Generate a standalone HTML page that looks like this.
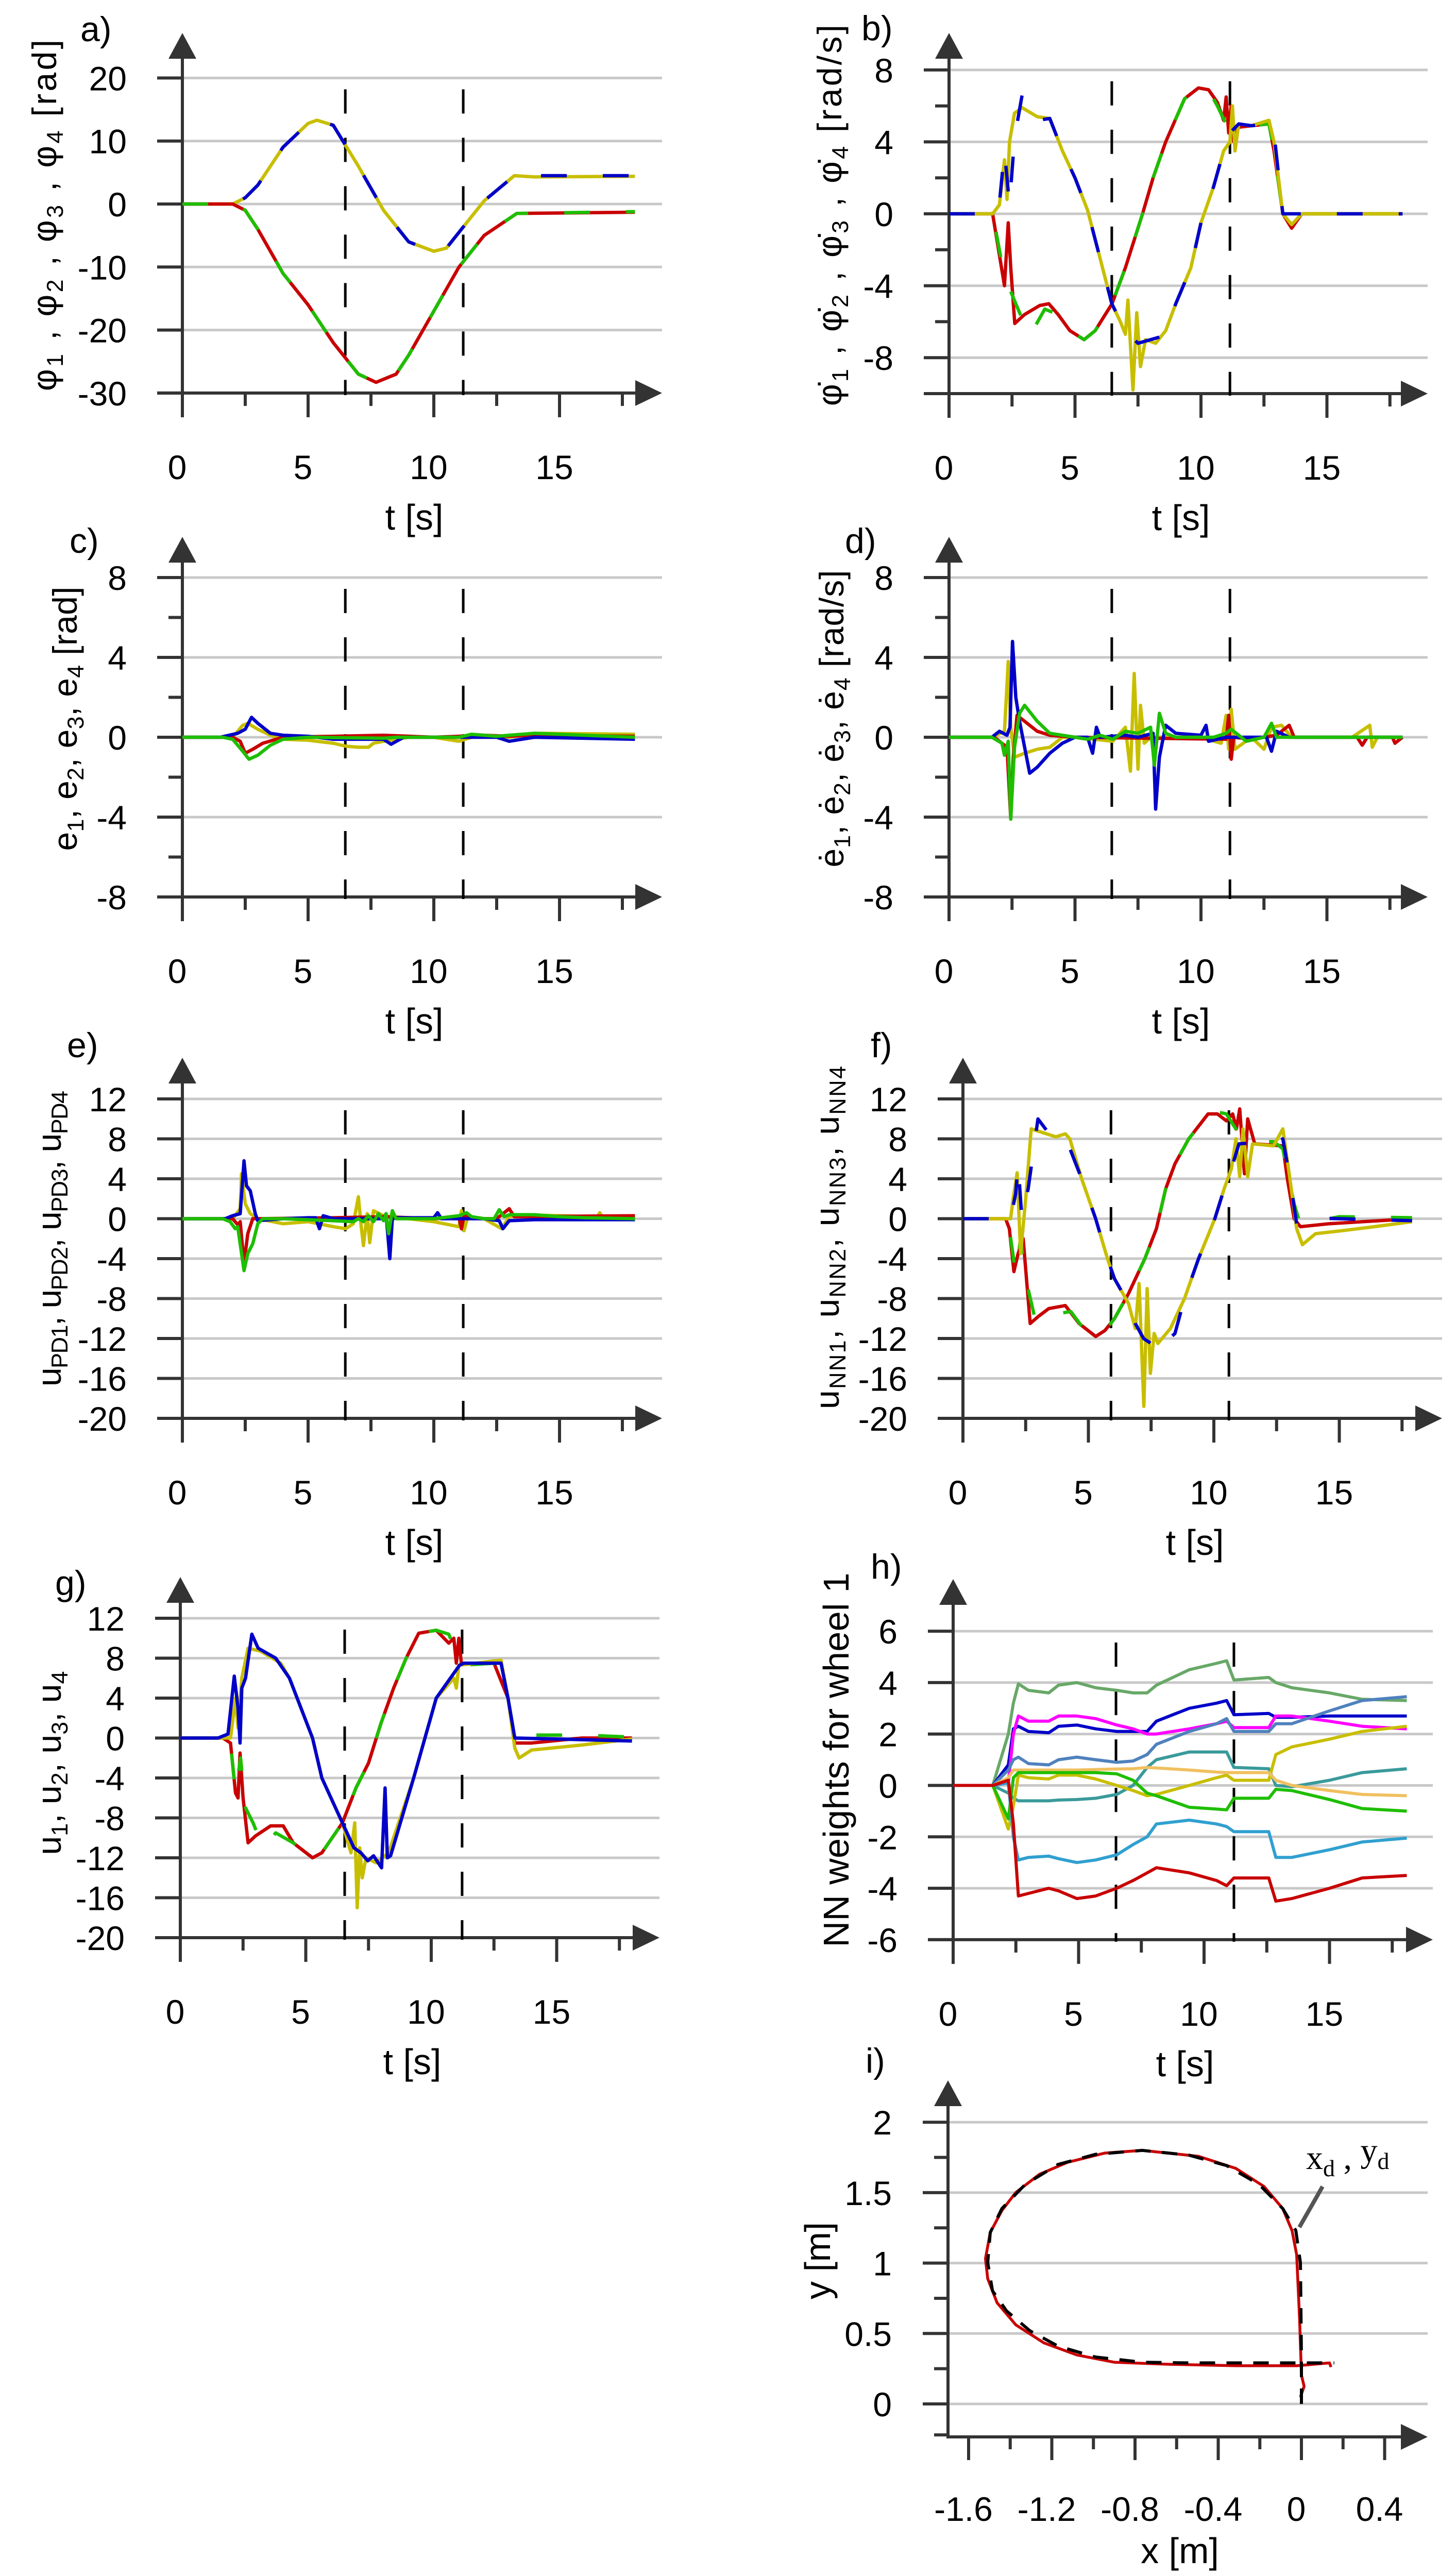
<!DOCTYPE html>
<html><head><meta charset="utf-8"><title>Wheel controller results</title>
<style>
html,body{margin:0;padding:0;background:#fff;width:2826px;height:5021px;overflow:hidden;}
svg{display:block;}
text{font-family:"Liberation Sans Narrow","Liberation Sans",sans-serif;fill:#000;}
.ttl{font-family:"Liberation Sans","DejaVu Sans",sans-serif;}
</style></head>
<body>
<svg id="fig" xmlns="http://www.w3.org/2000/svg" width="2826" height="5021" viewBox="0 0 2826 5021"></svg>
<script>
// ---------------- DATA ----------------
const a_yel_t=[0,2,2.5,3,4,5,5.35,6,7,8,9,10,10.5,11,12,13.2,14,18];
const a_yel_v=[0,0,1,3,9,12.8,13.3,12.5,6,-1,-6,-7.5,-7,-4.5,0.5,4.5,4.3,4.4];
const a_blu_t=[0,2,2.5,3,4,5,5.35,6,7,8,9,10,10.5,11,12,13.2,14,18];
const a_blu_v=[0,0,1,3,9,12.8,13.3,12.5,6,-1,-6,-7.6,-7,-4.5,0.5,4.5,4.5,4.5];
const a_red_t=[0,2,2.5,3,4,5,6,7,7.7,8.5,9,10,11,12,13.3,18];
const a_red_v=[0,0,-1,-4,-11,-16,-22,-27,-28.3,-27,-24,-17,-10,-5,-1.5,-1.3];
const a_grn_t=[0,2,2.5,3,4,5,6,7,7.7,8.5,9,10,11,12,13.3,18];
const a_grn_v=[0,0,-1,-4,-11,-16,-22,-27,-28.3,-27,-24,-17,-10,-5,-1.5,-1.2];
const b_red_t=[0,1.73,2.2,2.35,2.45,2.61,3.0,3.6,3.96,4.33,4.8,5.36,5.8,6.47,7.0,7.68,8.1,8.6,9.35,9.9,10.3,10.65,10.9,11.0,11.1,11.2,11.3,11.4,12.0,12.7,12.9,13.25,13.6,14,18];
const b_red_v=[0,0,-4,-0.5,-3,-6.1,-5.6,-5.1,-5.0,-5.6,-6.5,-7.0,-6.5,-5.0,-3,0,2,4,6.4,7.0,6.9,6.2,5.2,6.5,4.5,6.0,4,4.8,4.9,5.0,3.5,0,-0.8,0,0];
const b_grn_t=[0,1.73,2.2,2.5,2.8,3.2,3.8,4.33,4.8,5.36,5.8,6.47,7.0,7.68,8.1,8.6,9.35,9.9,10.3,10.65,11.0,11.4,12.0,12.7,12.9,13.25,14,18];
const b_grn_v=[0,0,-3.5,-4.5,-5.5,-6.8,-5.3,-5.6,-6.5,-7.0,-6.5,-5.0,-3,0,2,4,6.4,7.0,6.9,6.0,5.0,4.8,4.9,5.0,3.5,0,0,0];
const b_yel_t=[0,1.73,2.0,2.2,2.3,2.4,2.6,2.9,3.5,4.0,4.5,5.0,5.5,6.0,6.46,6.8,7.0,7.1,7.3,7.45,7.6,7.8,8.2,8.6,9.0,9.6,10.0,10.5,10.9,11.15,11.25,11.35,11.5,12,12.7,12.9,13.25,13.6,14,18];
const b_yel_v=[0,0,0.5,3,0.8,4,5.6,5.9,5.4,5.3,3.5,2,0.2,-2.5,-5.0,-6.0,-6.7,-4.8,-9.8,-5.5,-8.5,-7,-7.2,-6.5,-5,-3,-0.5,1.5,3.5,4,6,3.5,5,4.9,5.2,4,0,-0.6,0,0];
const b_blu_t=[0,1.73,2.0,2.2,2.4,2.6,2.9,3.2,3.5,4.0,4.5,5.0,5.5,6.0,6.46,7.0,7.5,8.0,8.5,9.0,9.6,10.0,10.5,10.9,11.15,11.5,12,12.7,12.9,13.25,14,18];
const b_blu_v=[0,0,0.6,3.5,0.5,4.2,6.6,5.6,5.2,5.3,3.5,2,0.2,-2.5,-5.0,-6.5,-7.2,-7.0,-6.8,-5,-3,-0.5,1.5,3.5,4.5,5,4.9,5.0,4.5,0,0,0];
const c_blu_t=[0,1.5,2.2,2.5,2.75,3,3.5,4,5,6,8,8.3,8.8,11,12.5,13,14,18];
const c_blu_v=[0,0,0.2,0.4,1.0,0.7,0.2,0.1,0.05,-0.1,-0.1,-0.35,0,0,0,-0.2,0,-0.1];
const c_yel_t=[0,2.0,2.4,2.6,3,3.5,4,5,6,6.5,7,7.4,7.6,8,9,10,11,11.5,12,13,13.5,14,18];
const c_yel_v=[0,0,0.6,0.7,0.4,0.1,-0.1,-0.15,-0.3,-0.45,-0.5,-0.5,-0.3,-0.2,0,0,-0.2,0,0.1,0,0.1,0.2,0.15];
const c_red_t=[0,2.0,2.3,2.5,2.8,3.2,4,6,8,10,12,13,14,18];
const c_red_v=[0,0,-0.2,-0.8,-0.6,-0.3,0,0.05,0.1,0,0.1,0.05,0.1,0.05];
const c_grn_t=[0,1.6,2.0,2.4,2.65,3,3.5,4,5,8,8.5,11,11.5,12,12.5,13,14,18];
const c_grn_v=[0,0,-0.1,-0.7,-1.1,-0.9,-0.4,-0.1,0,-0.05,0,0,0.15,0.1,0.05,0.1,0.2,0];
const d_yel_t=[0,1.7,2.2,2.35,2.45,2.6,3,3.5,4,4.5,5,6.5,7,7.2,7.35,7.5,7.6,7.75,8,9,10,10.8,11,11.1,11.2,11.35,12,12.5,12.8,13.2,13.6,16,16.7,16.8,17,18];
const d_yel_v=[0,0,0.3,3.8,0.5,-1,-0.8,-0.6,-0.5,0,0,-0.2,0.5,-1.7,3.2,-1.6,1.6,-0.3,0,0,0,-0.3,1.1,-0.6,1.4,-0.6,0,-0.6,0.5,0.6,0,0,0.6,-0.5,0,0];
const d_red_t=[0,1.8,2.3,2.45,2.55,2.7,3,3.5,4,5,11,11.1,11.2,11.3,12,13,13.5,13.7,16.2,16.4,16.6,17.6,17.7,18];
const d_red_v=[0,0,-0.5,-4.1,-1,1.1,0.8,0.3,0.1,0,-0.1,1.1,-1.1,0,-0.1,0.1,0.6,0,0,-0.4,0,0,-0.3,0];
const d_blu_t=[0,1.7,2.0,2.3,2.42,2.52,2.65,2.8,3.2,3.5,4,4.5,5,5.5,5.7,5.85,6,7,7.5,8.1,8.2,8.35,8.6,9,10,10.2,10.3,11,12,12.6,12.8,13,13.5,18];
const d_blu_v=[0,0,0.3,0.1,0.5,4.8,2,0.8,-1.8,-1.5,-0.8,-0.3,0,0,-0.8,0.5,0,0.1,0,0.2,-3.6,-1,0.6,0.2,0.1,0.6,-0.2,0,0,0,-0.7,0.3,0,0];
const d_grn_t=[0,1.7,2.1,2.2,2.35,2.45,2.6,2.8,3.0,3.5,4,5,5.5,6,6.5,7,7.5,8,8.15,8.35,8.6,9,10.5,11,11.2,11.8,12.5,12.8,13,13.5,18];
const d_grn_v=[0,0,-0.3,-0.9,-0.2,-4.1,-0.5,1.2,1.6,0.8,0.2,0,-0.1,0.1,-0.1,0.3,0.2,0.5,-1.4,1.2,0.2,0,0,0.2,0.4,-0.2,0,0.7,0,0,0];
const e_yel_t=[0,2.0,2.3,2.35,2.5,2.7,3,4,5,6,6.5,6.8,7.0,7.1,7.2,7.35,7.45,7.6,8,9,10,11,11.1,11.2,11.35,12,12.7,13,13.5,15,16.5,16.6,16.7,18];
const e_yel_v=[0,0,1,4.5,1.5,0.5,0,-0.5,-0.3,-0.8,-1.0,-0.5,2.2,-0.5,-2.7,0.5,-2.4,0.8,0.3,0,-0.3,-0.8,0.8,-1.2,0.2,0,-1.0,0.2,0.4,0.3,0.2,0.6,0.2,0.2];
const e_red_t=[0,2.0,2.2,2.3,2.45,2.6,2.8,3,6,8,10,11,11.1,11.2,12,12.5,12.75,13,13.2,18];
const e_red_v=[0,0,-0.6,-0.3,-4.5,-1.5,0,0,0.1,0.2,0,0.1,-1.0,0.3,0,0,0.5,1.0,0.2,0.3];
const e_blu_t=[0,1.7,2.0,2.3,2.45,2.55,2.7,2.9,3,4,5,5.3,5.45,5.6,6,8,8.1,8.25,8.35,8.6,10,10.15,10.3,11,12,12.6,12.75,13,14,18];
const e_blu_v=[0,0,0.3,0.5,5.8,3.3,2.8,0.5,-0.2,0,0.1,0.1,-1,0.3,0,0,0.5,-4.0,0,0.1,0.1,0.6,0,0,0,-0.2,-1.0,-0.2,-0.1,-0.1];
const e_grn_t=[0,1.6,1.9,2.1,2.2,2.45,2.6,2.8,3.0,3.2,4,6,6.8,7.0,7.2,7.4,7.6,7.8,8.0,8.1,8.2,8.35,8.5,10,11,11.3,11.5,12,12.4,12.6,12.8,13,14,15,16,18];
const e_grn_v=[0,0,-0.3,-1.0,-0.8,-5.2,-3.5,-2.5,-0.5,0,0,-0.2,-0.3,0,-0.3,0.3,-0.3,0.5,-0.2,0.5,-1.5,0.8,0,0,0.3,0.6,0.2,0,0,0.9,0.2,0.4,0.4,0.2,0.1,0];
const f_red_t=[0,1.7,1.85,2.03,2.2,2.4,2.68,3.0,3.42,4.08,4.63,5.29,5.66,6.04,6.6,7.25,7.71,8.08,8.45,9.0,9.77,10.14,10.5,10.75,10.9,11.03,11.22,11.35,11.63,12.75,12.93,13.2,13.45,14.6,17.9];
const f_red_v=[0,0,-1,-5.3,-3.5,-2,-10.5,-9.8,-9.0,-8.7,-10.5,-11.8,-11.2,-10,-7.5,-4,-1,3,5.5,8,10.5,10.5,9.8,10.5,9,11,4.5,10,7.5,7.3,4,0,-0.8,-0.5,0];
const f_grn_t=[0,1.7,1.85,2.1,2.3,2.5,2.9,3.4,3.8,4.3,4.8,5.29,5.66,6.04,6.6,7.25,7.71,8.08,8.45,9.0,9.77,10.14,10.5,11.0,11.63,12.4,12.75,13.2,13.45,14,15,17.9];
const f_grn_v=[0,0,-1,-5.5,-2,-6,-10.3,-9.8,-9.5,-9.3,-11,-11.8,-11.3,-10,-7.5,-4,-1,3,5.5,8,10.5,10.7,10.5,8.5,7.8,7.7,7.0,1.5,-0.6,-0.3,0.2,0.1];
const f_yel_t=[0,1.9,2.0,2.16,2.3,2.5,2.72,3.7,4.08,4.26,4.73,5.29,5.76,6.04,6.6,6.87,7.02,7.21,7.34,7.47,7.62,7.77,8.27,8.83,9.39,10.04,10.41,10.7,10.88,11.03,11.16,11.35,11.54,12.38,12.75,13.03,13.3,13.53,14.05,15.1,16.4,17.9];
const f_yel_v=[0,0,2,4.6,-3.5,2,9,8.2,8.5,8,4,0,-4,-6,-8.5,-11,-6.5,-18.8,-7,-15.5,-11.5,-12.5,-11,-8,-4,0,3,5,8,4.2,9,4.2,7.5,7.3,9,4,-1,-2.6,-1.5,-1.2,-0.8,-0.3];
const f_blu_t=[0,1.9,2.1,2.2,2.35,2.6,2.99,3.5,4.08,4.73,5.29,5.76,6.04,6.6,6.87,7.2,7.5,7.8,8.0,8.45,8.83,9.39,10.04,10.41,10.7,11.0,11.54,12.38,12.75,13.03,13.3,13.5,15,17.9];
const f_blu_v=[0,0,2.5,5.5,0,3,10,8.3,8.2,4,0,-4,-6,-8.5,-10.5,-12,-12.5,-13.5,-12.5,-11.5,-8,-4,0,3,5,7.5,7.6,7.5,8,4,-0.5,0.1,0,-0.2];
const g_blu_t=[0,1.5,1.9,2.15,2.3,2.38,2.45,2.6,2.85,3.1,3.8,4.35,5.27,5.64,6.46,6.92,7.2,7.47,7.7,8.02,8.16,8.25,8.38,9.3,10.2,11.13,11.3,12.78,13.06,13.33,15,18];
const g_blu_v=[0,0,0.4,6.2,3,-0.5,5,6,10.4,9,8,6,0,-4,-8.5,-11,-11.5,-12.3,-11.8,-13,-5,-12,-11.8,-4,4,7.3,7.5,7.5,4,0,-0.1,-0.3];
const g_yel_t=[0,2.0,2.2,2.3,2.45,2.7,3.2,4.0,4.35,5.27,5.64,6.46,6.8,6.95,7.05,7.15,7.25,7.4,7.8,8.3,9.3,10.2,10.9,11.0,11.1,12.78,13.06,13.33,13.5,14,16,18];
const g_yel_v=[0,0,4,1,6,9,8.7,7.5,6,0,-4,-8.5,-11.5,-8.5,-17,-11,-14,-12,-12.5,-11.5,-4,4,6,5,7.3,7.8,4,-1,-2,-1.2,-0.7,-0.1];
const g_red_t=[0,1.7,2.0,2.2,2.3,2.38,2.5,2.7,3.0,3.6,4.1,4.5,5.27,5.64,6.46,7.0,7.5,8.0,8.5,9.0,9.5,10.2,10.7,10.9,11.0,11.1,11.2,12.5,13.06,13.33,14,16,18];
const g_red_v=[0,0,-0.5,-5.5,-6,-1.5,-6,-10.5,-9.8,-8.8,-8.8,-10.5,-12,-11.5,-8.5,-5,-2.5,1.5,5,8,10.5,10.8,9.5,10,7.5,10,7.5,7.5,4,-0.5,-0.5,0,0];
const g_grn_t=[0,1.5,2.0,2.2,2.4,2.6,2.9,3.3,3.8,4.5,5.27,5.64,6.46,7.0,7.5,8.0,8.5,9.0,9.5,10.2,10.7,11.0,11.3,12.5,13.06,13.33,14,16,18];
const g_grn_v=[0,0,-0.5,-5.5,-2,-7,-8.5,-11,-9.5,-10.5,-12,-11.5,-8.5,-5,-2.5,1.5,5,8,10.5,10.8,10.4,8.5,7.3,7.5,4,0,0.3,0.3,0.1];
const h_t=[0,1.58,2.2,2.4,2.6,3.0,3.81,4.2,4.93,5.68,6.52,7.17,7.73,8.1,9.41,10.5,10.9,11.19,12.58,12.86,13.5,15,16.3,18.08];
const h_w1=[0,0,2,3.2,3.95,3.7,3.6,3.9,4.0,3.8,3.7,3.6,3.6,3.9,4.5,4.75,4.85,4.1,4.2,4.0,3.8,3.6,3.35,3.3];
const h_w2=[0,0,0.8,2.2,2.3,2.1,2.05,2.3,2.35,2.2,2.1,2.1,2.1,2.5,3.0,3.2,3.3,2.75,2.8,2.65,2.65,2.7,2.7,2.7];
const h_w3=[0,0,0.1,2.0,2.7,2.5,2.5,2.7,2.7,2.6,2.35,2.2,2.0,2.0,2.2,2.4,2.5,2.25,2.25,2.7,2.7,2.5,2.3,2.2];
const h_w4=[0,0,0.6,1.0,1.1,0.85,0.8,1.0,1.1,1.0,0.9,0.95,1.2,1.6,2.1,2.4,2.6,2.1,2.1,2.4,2.4,2.9,3.3,3.45];
const h_w5=[0,0,-0.3,-0.5,-0.6,-0.6,-0.6,-0.57,-0.55,-0.5,-0.35,0,0.7,1.0,1.3,1.3,1.3,0.7,0.65,0,-0.05,0.2,0.5,0.65];
const h_w6=[0,0,-1.7,-0.8,0.4,0.3,0.25,0.4,0.4,0.25,0,-0.2,-0.4,-0.35,0,0.3,0.4,0.2,0.2,1.2,1.5,1.8,2.1,2.3];
const h_w7=[0,0,0.3,0.6,0.6,0.6,0.6,0.6,0.6,0.62,0.64,0.65,0.7,0.68,0.6,0.52,0.5,0.5,0.5,0.2,0.0,-0.2,-0.35,-0.4];
const h_w8=[0,0,-1.3,0.3,0.5,0.5,0.5,0.5,0.5,0.5,0.45,0.2,-0.3,-0.4,-0.85,-0.92,-0.95,-0.5,-0.5,-0.15,-0.2,-0.55,-0.9,-1.0];
const h_w9=[0,0,0.1,-2.0,-2.9,-2.8,-2.75,-2.85,-3.0,-2.9,-2.7,-2.3,-2.0,-1.5,-1.35,-1.5,-1.6,-1.8,-1.8,-2.8,-2.8,-2.5,-2.2,-2.05];
const h_w10=[0,0,0.2,-1.5,-4.3,-4.2,-4.0,-4.1,-4.4,-4.3,-4.0,-3.7,-3.4,-3.2,-3.4,-3.7,-3.9,-3.6,-3.6,-4.5,-4.4,-4.0,-3.6,-3.5];
const i_act_x=[-0.005,0.013,0.0,-0.009,-0.023,-0.045,-0.09,-0.18,-0.315,-0.495,-0.765,-0.945,-1.125,-1.26,-1.373,-1.44,-1.496,-1.519,-1.508,-1.463,-1.373,-1.238,-1.08,-0.90,-0.653,-0.315,-0.023,0.135,0.142];
const i_act_y=[0.048,0.125,0.205,0.604,1.06,1.23,1.387,1.544,1.672,1.758,1.80,1.781,1.715,1.63,1.501,1.373,1.217,1.031,0.889,0.718,0.561,0.433,0.348,0.296,0.282,0.271,0.271,0.291,0.262];
const i_des_x=[0,0,-0.005,-0.027,-0.09,-0.203,-0.36,-0.54,-0.765,-0.99,-1.17,-1.328,-1.44,-1.496,-1.508,-1.485,-1.418,-1.305,-1.17,-0.99,-0.765,-0.54,0.158];
const i_des_y=[0,0.319,1.003,1.231,1.387,1.558,1.692,1.766,1.80,1.772,1.70,1.558,1.387,1.217,1.003,0.803,0.661,0.519,0.41,0.333,0.296,0.291,0.291];
const tTicks=[0,5,10,15];
const tMinor=[2.5,7.5,12.5,17.5];
const ixTicks=[-1.6,-1.2,-0.8,-0.4,0,0.4];
const ixMinor=[-1.4,-1.0,-0.6,-0.2,0.2];
const iyTicks=[2,1.5,1,0.5,0];
const iyMinor=[1.75,1.25,0.75,0.25,-0.22];

// ---------------- RENDER ----------------
const NS='http://www.w3.org/2000/svg';
const svg=document.getElementById('fig');
function mk(tag,parent){const e=document.createElementNS(NS,tag);parent.appendChild(e);return e;}
function line(par,x1,y1,x2,y2,col,w){const l=mk('line',par);l.setAttribute('x1',x1);l.setAttribute('y1',y1);l.setAttribute('x2',x2);l.setAttribute('y2',y2);l.setAttribute('stroke',col);l.setAttribute('stroke-width',w);return l;}
function txt(par,x,y,s,size,anchor){const t=mk('text',par);t.setAttribute('x',x);t.setAttribute('y',y);t.setAttribute('font-size',size);t.setAttribute('text-anchor',anchor||'start');t.textContent=s;return t;}
const AX='#333333', GRID='#c8c8c8';
const RED='#c80000', GRN='#1ebe00', BLU='#0000c8', YEL='#c8be00';

function pathD(xs,ys,X,Y){let d='';for(let i=0;i<xs.length;i++){d+=(i?'L':'M')+X(xs[i]).toFixed(1)+','+Y(ys[i]).toFixed(1);}return d;}
function series(par,xs,ys,X,Y,col,dashed,name,w){
  const p=mk('path',par);
  p.setAttribute('d',pathD(xs,ys,X,Y));
  p.setAttribute('fill','none');p.setAttribute('stroke',col);p.setAttribute('stroke-width',w||6.5);
  p.setAttribute('stroke-linejoin','round');
  if(dashed)p.setAttribute('stroke-dasharray',dashed);
  
  
  return p;
}
function yTitle(par,cx,cy,len,parts,size){
  const g=mk('g',par);
  g.setAttribute('transform','translate('+(cx+size*0.36)+','+cy+') rotate(-90)');
  const t=mk('text',g);
  t.setAttribute('class','ttl');
  t.setAttribute('text-anchor','middle');t.setAttribute('font-size',size);
  t.setAttribute('textLength',len);t.setAttribute('lengthAdjust','spacing');
  
  
  parts.forEach(p=>{const s=mk('tspan',t);s.textContent=p[0];
    if(p[1]){s.setAttribute('font-size',size*0.68);s.setAttribute('dy',size*0.2);}
    else if(p[2]){s.setAttribute('dy',-size*0.2);}
  });
  return t;
}
function sub(base,n){return [[base,0,0],[n,1,0]];}

function axesPanel(p){
  const g=mk('g',svg);
  
  
  const X=t=>p.ax+t*p.sx, Y=v=>p.y0-v*p.sy;
  const xa=Y(p.xv);
  p.yt.forEach(v=>{ if(v!==p.xv){const l=line(g,p.ax,Y(v),p.xEnd,Y(v),GRID,5);
    
    }
    const tk=line(g,p.ax-49,Y(v),p.ax,Y(v),AX,6);
    
    
    const lb=txt(g,p.ax-108,Y(v)+24,String(v),66,'end');
    
    
  });
  (p.ym||[]).forEach(v=>{const tk=line(g,p.ax-27,Y(v),p.ax,Y(v),AX,6);
    
    });
  const xl=line(g,p.ax-49,xa,p.xEnd-48,xa,AX,6);
  
  
  const xr=mk('polygon',g);xr.setAttribute('points',(p.xEnd)+','+xa+' '+(p.xEnd-52)+','+(xa-25)+' '+(p.xEnd-52)+','+(xa+25));xr.setAttribute('fill',AX);
  
  
  const yl=line(g,p.ax,p.top+45,p.ax,xa+47,AX,6);
  
  
  const yr=mk('polygon',g);yr.setAttribute('points',p.ax+','+p.top+' '+(p.ax-27)+','+(p.top+50)+' '+(p.ax+27)+','+(p.top+50));yr.setAttribute('fill',AX);
  
  
  tTicks.forEach(t=>{const tk=line(g,X(t),xa,X(t),xa+47,AX,6);
    
    
    const lb=txt(g,X(t)-10,xa+167,String(t),66,'middle');
    
    });
  tMinor.forEach(t=>{const tk=line(g,X(t),xa,X(t),xa+25,AX,6);
    
    });
  const xt=txt(g,p.ax+450,xa+265,'t [s]',70,'middle');
  
  
  const pl=txt(g,p.lx,p.ly,p.id+')',68,'start');
  
  
  p.dash.forEach(t=>{const l=line(g,X(t),Y(p.yt[0])+22,X(t),xa+4,'#000',5);l.setAttribute('stroke-dasharray','47 47');
    
    });
  yTitle(g,p.tx,p.ty,p.tlen,p.title,p.tsize||66);
  return {g,X,Y};
}

let P=axesPanel({id:'a',ax:354,sx:48.8,y0:396,sy:12.23,yt:[20,10,0,-10,-20,-30],xv:-30,xEnd:1285,top:64,lx:156,ly:80,dash:[6.48,11.17],
  tx:85,ty:418,tlen:682,title:[...sub('φ','1'),[' , ',0,1],...sub('φ','2'),[' , ',0,1],...sub('φ','3'),[' , ',0,1],...sub('φ','4'),['  [rad]',0,1]]});
series(P.g,a_yel_t,a_yel_v,P.X,P.Y,YEL,null,'phi3-line');
series(P.g,a_blu_t,a_blu_v,P.X,P.Y,BLU,'50 70','phi4-line');
series(P.g,a_red_t,a_red_v,P.X,P.Y,RED,null,'phi1-line');
series(P.g,a_grn_t,a_grn_v,P.X,P.Y,GRN,'50 70','phi2-line');
P=axesPanel({id:'b',ax:1842,sx:48.9,y0:415,sy:34.9,yt:[8,4,0,-4,-8],ym:[6,2,-2,-6],xv:-10,xEnd:2771,top:64,lx:1672,ly:78,dash:[6.46,11.15],
  tx:1609,ty:418,tlen:740,title:[...sub('φ̇','1'),[' , ',0,1],...sub('φ̇','2'),[' , ',0,1],...sub('φ̇','3'),[' , ',0,1],...sub('φ̇','4'),['  [rad/s]',0,1]]});
series(P.g,b_red_t,b_red_v,P.X,P.Y,RED,null,'dphi1-line');
series(P.g,b_grn_t,b_grn_v,P.X,P.Y,GRN,'50 70','dphi2-line');
series(P.g,b_yel_t,b_yel_v,P.X,P.Y,YEL,null,'dphi3-line');
series(P.g,b_blu_t,b_blu_v,P.X,P.Y,BLU,'50 70','dphi4-line');
P=axesPanel({id:'c',ax:354,sx:48.8,y0:1431,sy:38.75,yt:[8,4,0,-4,-8],ym:[6,2,-2,-6],xv:-8,xEnd:1285,top:1042,lx:135,ly:1073,dash:[6.48,11.17],
  tx:125,ty:1395,tlen:513,title:[...sub('e','1'),[', ',0,1],...sub('e','2'),[', ',0,1],...sub('e','3'),[', ',0,1],...sub('e','4'),[' [rad]',0,1]]});
series(P.g,c_yel_t,c_yel_v,P.X,P.Y,YEL,null,'e3-line');
series(P.g,c_red_t,c_red_v,P.X,P.Y,RED,null,'e1-line');
series(P.g,c_blu_t,c_blu_v,P.X,P.Y,BLU,null,'e4-line');
series(P.g,c_grn_t,c_grn_v,P.X,P.Y,GRN,null,'e2-line');
P=axesPanel({id:'d',ax:1842,sx:48.9,y0:1431,sy:38.75,yt:[8,4,0,-4,-8],ym:[6,2,-2,-6],xv:-8,xEnd:2771,top:1042,lx:1640,ly:1073,dash:[6.46,11.15],
  tx:1613,ty:1395,tlen:577,title:[...sub('ė','1'),[', ',0,1],...sub('ė','2'),[', ',0,1],...sub('ė','3'),[', ',0,1],...sub('ė','4'),[' [rad/s]',0,1]]});
series(P.g,d_yel_t,d_yel_v,P.X,P.Y,YEL,null,'de3-line');
series(P.g,d_red_t,d_red_v,P.X,P.Y,RED,null,'de1-line');
series(P.g,d_blu_t,d_blu_v,P.X,P.Y,BLU,null,'de4-line');
series(P.g,d_grn_t,d_grn_v,P.X,P.Y,GRN,null,'de2-line');
P=axesPanel({id:'e',ax:354,sx:48.8,y0:2365.5,sy:19.375,yt:[12,8,4,0,-4,-8,-12,-16,-20],xv:-20,xEnd:1285,top:2053,lx:130,ly:2052,dash:[6.48,11.17],
  tx:94,ty:2404,tlen:574,title:[...sub('u','PD1'),[', ',0,1],...sub('u','PD2'),[', ',0,1],...sub('u','PD3'),[', ',0,1],...sub('u','PD4')]});
series(P.g,e_yel_t,e_yel_v,P.X,P.Y,YEL,null,'upd3-line');
series(P.g,e_red_t,e_red_v,P.X,P.Y,RED,null,'upd1-line');
series(P.g,e_blu_t,e_blu_v,P.X,P.Y,BLU,null,'upd4-line');
series(P.g,e_grn_t,e_grn_v,P.X,P.Y,GRN,null,'upd2-line');
P=axesPanel({id:'f',ax:1869,sx:48.7,y0:2365.5,sy:19.375,yt:[12,8,4,0,-4,-8,-12,-16,-20],xv:-20,xEnd:2799,top:2053,lx:1690,ly:2052,dash:[5.9,10.6],
  tx:1604,ty:2402,tlen:666,title:[...sub('u','NN1'),[', ',0,1],...sub('u','NN2'),[', ',0,1],...sub('u','NN3'),[', ',0,1],...sub('u','NN4')]});
series(P.g,f_red_t,f_red_v,P.X,P.Y,RED,null,'unn1-line');
series(P.g,f_grn_t,f_grn_v,P.X,P.Y,GRN,'50 70','unn2-line');
series(P.g,f_yel_t,f_yel_v,P.X,P.Y,YEL,null,'unn3-line');
series(P.g,f_blu_t,f_blu_v,P.X,P.Y,BLU,'50 70','unn4-line');
P=axesPanel({id:'g',ax:350,sx:48.7,y0:3373.5,sy:19.375,yt:[12,8,4,0,-4,-8,-12,-16,-20],xv:-20,xEnd:1280,top:3061,lx:107,ly:3096,dash:[6.55,11.23],
  tx:94,ty:3422,tlen:357,title:[...sub('u','1'),[', ',0,1],...sub('u','2'),[', ',0,1],...sub('u','3'),[', ',0,1],...sub('u','4')]});
series(P.g,g_red_t,g_red_v,P.X,P.Y,RED,null,'u1-line');
series(P.g,g_grn_t,g_grn_v,P.X,P.Y,GRN,'50 70','u2-line');
series(P.g,g_yel_t,g_yel_v,P.X,P.Y,YEL,null,'u3-line');
series(P.g,g_blu_t,g_blu_v,P.X,P.Y,BLU,null,'u4-line');
P=axesPanel({id:'h',ax:1850,sx:48.7,y0:3465.5,sy:49.9,yt:[6,4,2,0,-2,-4,-6],xv:-6,xEnd:2781,top:3065,lx:1690,ly:3064,dash:[6.49,11.19],
  tx:1622,ty:3416,tlen:727,tsize:70,title:[['NN weights for wheel 1',0,0]]});
const hCols=['#68a868','#0000c8','#ff00ff','#4f81bd','#3a9a9a','#c8be00','#f0c060','#1ebe00','#30a0d0','#c80000'];
const hSeries=[h_w1,h_w2,h_w3,h_w4,h_w5,h_w6,h_w7,h_w8,h_w9,h_w10];
hSeries.forEach((w,k)=>{series(P.g,h_t,w,P.X,P.Y,hCols[k],null,'weight-'+(k+1)+'-line',6);});

(function(){
  const g=mk('g',svg);
  
  
  const ax=1840, X=v=>2526+v*403.75, Y=v=>4666-v*273.4, xa=4730, xEnd=2771, top=4038;
  iyTicks.forEach(v=>{const l=line(g,ax,Y(v),xEnd,Y(v),GRID,5);
    
    
    const tk=line(g,ax-49,Y(v),ax,Y(v),AX,6);
    
    
    const lb=txt(g,ax-109,Y(v)+24,String(v),66,'end');
    
    });
  iyMinor.forEach(v=>{const tk=line(g,ax-27,Y(v),ax,Y(v),AX,6);
    
    });
  const xl=line(g,ax,xa,xEnd-48,xa,AX,6);
  
  
  const xr=mk('polygon',g);xr.setAttribute('points',xEnd+','+xa+' '+(xEnd-52)+','+(xa-25)+' '+(xEnd-52)+','+(xa+25));xr.setAttribute('fill',AX);
  
  
  const yl=line(g,ax,top+45,ax,xa+3,AX,6);
  
  
  const yr=mk('polygon',g);yr.setAttribute('points',ax+','+top+' '+(ax-27)+','+(top+50)+' '+(ax+27)+','+(top+50));yr.setAttribute('fill',AX);
  
  
  ixTicks.forEach(v=>{const tk=line(g,X(v),xa,X(v),xa+45,AX,6);
    
    
    const lb=txt(g,X(v)-10,4893,String(v),66,'middle');
    
    });
  ixMinor.forEach(v=>{const tk=line(g,X(v),xa,X(v),xa+24,AX,6);
    
    });
  const xt=txt(g,2290,4975,'x [m]',70,'middle');
  
  
  const pl=txt(g,1680,4023,'i)',68,'start');
  
  
  yTitle(g,1586,4388,150,[['y [m]',0,0]],70);
  series(g,i_act_x,i_act_y,X,Y,RED,null,'actual-path',5.5);
  series(g,i_des_x,i_des_y,X,Y,'#000','30 22','desired-path',6);
  const ll=line(g,2567,4244,2522,4323,'#555',8);
  
  
  const an=mk('text',g);an.setAttribute('x',2535);an.setAttribute('y',4210);an.setAttribute('font-size',66);
  an.setAttribute('style','font-family:"Liberation Serif",serif');
  
  
  [['x',0],['d',1],[' , ',2],['y',0],['d',1]].forEach(p=>{const s=mk('tspan',an);s.textContent=p[0];
    if(p[1]===1){s.setAttribute('font-size',46);s.setAttribute('dy',14);}
    else if(p[1]===2){s.setAttribute('dy',-14);}
    else if(p[0]==='y'){s.setAttribute('dy',-14);}
  });
})();
</script>
</body></html>
